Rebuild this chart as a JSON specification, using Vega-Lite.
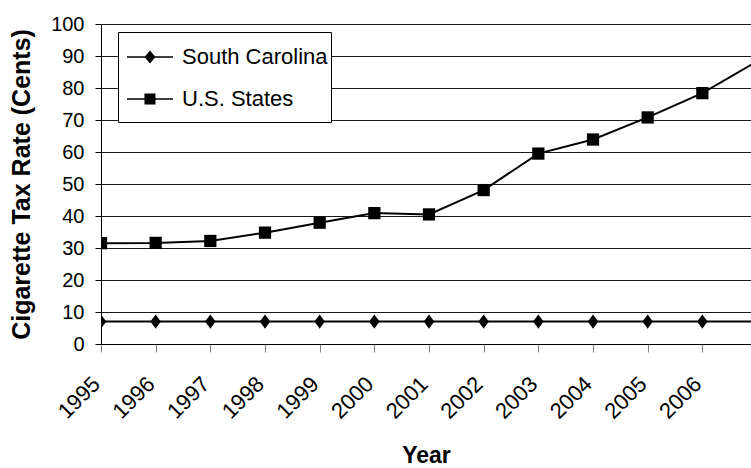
{
  "$schema": "https://vega.github.io/schema/vega-lite/v6.json",
  "width": 650,
  "height": 320,
  "autosize": {"type": "none"},
  "padding": {"left": 101, "top": 24, "right": 0, "bottom": 124},
  "background": "white",
  "config": {
    "view": {"stroke": null},
    "font": "Liberation Sans",
    "axis": {"labelFont": "Liberation Sans", "titleFont": "Liberation Sans"},
    "legend": {"labelFont": "Liberation Sans"}
  },
  "data": {
    "values": [
      {"year": 1995, "series": "South Carolina", "rate": 7},
      {"year": 1996, "series": "South Carolina", "rate": 7},
      {"year": 1997, "series": "South Carolina", "rate": 7},
      {"year": 1998, "series": "South Carolina", "rate": 7},
      {"year": 1999, "series": "South Carolina", "rate": 7},
      {"year": 2000, "series": "South Carolina", "rate": 7},
      {"year": 2001, "series": "South Carolina", "rate": 7},
      {"year": 2002, "series": "South Carolina", "rate": 7},
      {"year": 2003, "series": "South Carolina", "rate": 7},
      {"year": 2004, "series": "South Carolina", "rate": 7},
      {"year": 2005, "series": "South Carolina", "rate": 7},
      {"year": 2006, "series": "South Carolina", "rate": 7},
      {"year": 2007, "series": "South Carolina", "rate": 7},
      {"year": 1995, "series": "U.S. States", "rate": 31.5},
      {"year": 1996, "series": "U.S. States", "rate": 31.6},
      {"year": 1997, "series": "U.S. States", "rate": 32.2},
      {"year": 1998, "series": "U.S. States", "rate": 34.8},
      {"year": 1999, "series": "U.S. States", "rate": 37.9},
      {"year": 2000, "series": "U.S. States", "rate": 40.9},
      {"year": 2001, "series": "U.S. States", "rate": 40.5},
      {"year": 2002, "series": "U.S. States", "rate": 48.1},
      {"year": 2003, "series": "U.S. States", "rate": 59.5},
      {"year": 2004, "series": "U.S. States", "rate": 63.9},
      {"year": 2005, "series": "U.S. States", "rate": 70.8},
      {"year": 2006, "series": "U.S. States", "rate": 78.4},
      {"year": 2007, "series": "U.S. States", "rate": 88.3}
    ]
  },
  "encoding": {
    "x": {
      "field": "year",
      "type": "quantitative",
      "scale": {"domain": [1995, 2006.89], "nice": false, "zero": false},
      "axis": {
        "values": [1995, 1996, 1997, 1998, 1999, 2000, 2001, 2002, 2003, 2004, 2005, 2006, 2007],
        "format": "d",
        "labelAngle": -45,
        "labelAlign": "right",
        "labelBaseline": "alphabetic",
        "labelFontSize": 22,
        "labelColor": "black",
        "labelPadding": 33,
        "labelDx": 1,
        "labelOverlap": false,
        "labelBound": false,
        "labelFlush": false,
        "tickSize": 8,
        "tickColor": "#808080",
        "domainColor": "black",
        "grid": false,
        "title": "Year",
        "titleFontSize": 23,
        "titleFontWeight": "bold",
        "titleColor": "black",
        "titleBaseline": "alphabetic",
        "titleY": 118
      }
    },
    "y": {
      "field": "rate",
      "type": "quantitative",
      "scale": {"domain": [0, 100], "nice": false},
      "axis": {
        "values": [0, 10, 20, 30, 40, 50, 60, 70, 80, 90, 100],
        "labelFontSize": 20,
        "labelColor": "black",
        "labelPadding": 11,
        "tickSize": 6,
        "tickColor": "black",
        "domainColor": "black",
        "grid": true,
        "gridColor": "#1a1a1a",
        "gridWidth": 1,
        "gridOpacity": 1,
        "title": "Cigarette Tax Rate (Cents)",
        "titleFontSize": 25,
        "titleFontWeight": "bold",
        "titleColor": "black",
        "titleX": -80,
        "titleY": 160,
        "titleAngle": -90,
        "titleAlign": "center",
        "titleBaseline": "middle"
      }
    }
  },
  "resolve": {"scale": {"shape": "independent"}, "legend": {"shape": "independent"}},
  "layer": [
    {
      "mark": {"type": "line", "color": "black", "strokeWidth": 2, "clip": true},
      "encoding": {"detail": {"field": "series", "type": "nominal"}}
    },
    {
      "mark": {"type": "point", "filled": true, "opacity": 1, "color": "black", "size": 150, "clip": true},
      "encoding": {
        "shape": {
          "field": "series",
          "type": "nominal",
          "scale": {"domain": ["South Carolina", "U.S. States"], "range": ["M0,-1.15L0.85,0L0,1.15L-0.85,0Z", "square"]},
          "legend": null
        }
      }
    },
    {
      "mark": {"type": "point", "filled": true, "color": "black", "opacity": 0, "size": 10, "clip": true},
      "encoding": {
        "shape": {
          "field": "series",
          "type": "nominal",
          "scale": {"domain": ["South Carolina", "U.S. States"], "range": ["M0,-0.8M0,0.8M-0.762,-0.04H1.429V0.04H-0.762ZM0.333,-0.31L0.595,0L0.333,0.31L0.071,0Z", "M0,-0.8M0,0.8M-0.762,-0.04H1.429V0.04H-0.762ZM0.071,-0.262H0.595V0.262H0.071Z"]},
          "legend": {
            "orient": "none",
            "legendX": 17,
            "legendY": 8,
            "title": null,
            "padding": 3,
            "strokeColor": "black",
            "fillColor": "white",
            "symbolSize": 1764,
            "rowPadding": 0,
            "labelFontSize": 22,
            "labelColor": "black",
            "labelOffset": 17,
            "labelLimit": 300,
            "symbolFillColor": "black",
            "symbolOpacity": 1
          }
        }
      }
    }
  ]
}
